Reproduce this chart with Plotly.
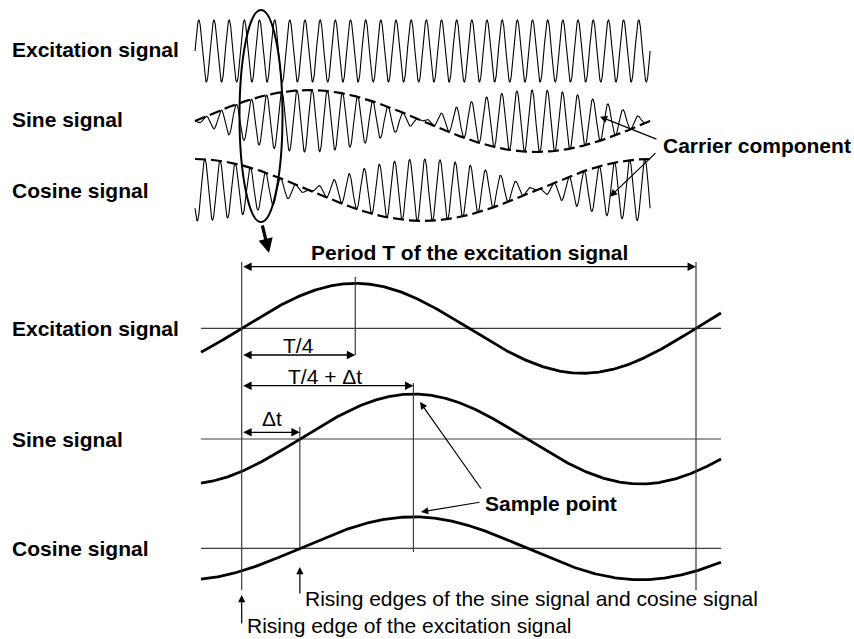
import numpy as np
import plotly.graph_objects as go

# ---------------- data ----------------
row_labels = ["Excitation signal", "Sine signal", "Cosine signal"]

# upper panel: resolver waveforms over one mechanical revolution
n_carrier_cycles = 30          # excitation cycles shown
n_envelope_periods = 1         # carrier-component periods over the same span
carrier_lag_cycles = [0.0, 0.47, 0.40]   # carrier phase of each row (cycles)

# lower panel: one excitation period T
delta_t = 0.128                # delay of sine/cosine signals, in T
t_span = [-0.0896, 1.055]      # drawn time span, in T
bottom_amplitude = [1.0, 1.0, 0.7]

period_text = "Period T of the excitation signal"
t4_text = "T/4"
t4dt_text = "T/4 + Δt"
dt_text = "Δt"
sample_text = "Sample point"
carrier_text = "Carrier component"
rise_sc_text = "Rising edges of the sine signal and cosine signal"
rise_exc_text = "Rising edge of the excitation signal"

# ---------------- layout constants (pixels) ----------------
W, H = 854, 639
TOP_X0, TOP_CYC = 195.0, 15.17
BOT_X0, BOT_T = 241.7, 454.3
top_rows_y = [51, 121, 190]
TOP_AMP = 31
bot_rows_y = [328.3, 439, 548.3]
BOT_AMP = 45

FONT = "Arial, 'Liberation Sans', sans-serif"
INK = "#000000"
GUIDE = "#3c3c3c"

fig = go.Figure()

# ---- upper panel traces (x2 in carrier cycles) ----
c = np.linspace(0, n_carrier_cycles, 4001)
phi = 2 * np.pi * n_envelope_periods * c / n_carrier_cycles
env = [np.ones_like(c), np.sin(phi), np.cos(phi)]
for i in range(3):
    y = top_rows_y[i] - TOP_AMP * env[i] * np.sin(2 * np.pi * (c - carrier_lag_cycles[i]))
    fig.add_trace(go.Scatter(x=c, y=y, xaxis="x2", yaxis="y", mode="lines",
                             line=dict(color=INK, width=1.1), hoverinfo="skip"))
for i in (1, 2):
    fig.add_trace(go.Scatter(x=c, y=top_rows_y[i] - TOP_AMP * env[i], xaxis="x2", yaxis="y",
                             mode="lines", line=dict(color=INK, width=2.2, dash="11px,5px"),
                             hoverinfo="skip"))

# ---- lower panel traces (x in units of T) ----
t = np.linspace(t_span[0], t_span[1], 800)
bottom_delay = [0.0, delta_t, delta_t]
for i in range(3):
    fig.add_trace(go.Scatter(x=[t_span[0], t_span[1]], y=[bot_rows_y[i]] * 2, mode="lines",
                             line=dict(color=GUIDE, width=1.2), hoverinfo="skip"))
for i in range(3):
    y = bot_rows_y[i] - BOT_AMP * bottom_amplitude[i] * np.sin(2 * np.pi * (t - bottom_delay[i]))
    fig.add_trace(go.Scatter(x=t, y=y, mode="lines", line=dict(color=INK, width=2.8),
                             hoverinfo="skip"))

shapes = []
# vertical guide lines: (time in T, top px, bottom px)
guides = [(0.0, 262, 590), (1.0, 262, 590), (0.25, 277, 355),
          (0.25 + delta_t, 383, 552), (delta_t, 427, 548.3)]
for tx, y0, y1 in guides:
    shapes.append(dict(type="line", xref="x", yref="y", x0=tx, x1=tx, y0=y0, y1=y1,
                       line=dict(color=GUIDE, width=1.2)))
# ellipse around the first cycles
shapes.append(dict(type="circle", xref="paper", yref="y",
                   x0=239.5 / W, x1=282.5 / W, y0=10, y1=222,
                   line=dict(color=INK, width=2)))

ann = []


def label(text, x, y, size=21, bold=True, anchor="left"):
    ann.append(dict(text=f"<b>{text}</b>" if bold else text, x=x / W, y=y, xref="paper",
                    yref="y", xanchor=anchor, yanchor="middle", showarrow=False,
                    font=dict(family=FONT, size=size, color=INK)))


def arrow(xtip, ytip, axp, ayp, width=1.2, head=2, size=1.2, color=INK):
    ann.append(dict(text="", x=xtip / W, y=ytip, xref="paper", yref="y", ax=axp, ay=ayp,
                    showarrow=True, arrowhead=head, arrowsize=size, arrowwidth=width,
                    arrowcolor=color, standoff=0, startstandoff=0))


def span(t0, t1, y):
    ann.append(dict(text="", x=t1, y=y, ax=t0, ay=y, xref="x", yref="y", axref="x",
                    ayref="y", showarrow=True, arrowside="end+start", arrowhead=2,
                    startarrowhead=2, arrowsize=1.3, startarrowsize=1.3, arrowwidth=1.3,
                    arrowcolor=INK, standoff=0, startstandoff=0))


# row labels
for i, name in enumerate(row_labels):
    label(name, 10, [49, 119, 190][i])
    label(name, 10, bot_rows_y[i])

# dimension arrows
span(0, 1, 266.7)
span(0, 0.25, 355)
span(0, 0.25 + delta_t, 385.7)
span(0, delta_t, 432.3)

label(period_text, 470, 252, anchor="center")
label(t4_text, 298.6, 345, bold=False, anchor="center")
label(t4dt_text, 325, 376.5, bold=False, anchor="center")
label(dt_text, 271.7, 418, bold=False, anchor="center")

# sample point
label(sample_text, 483, 503)
arrow(420, 402, 62, 88)
arrow(421, 512, 60, -10)

# carrier component
label(carrier_text, 661, 145)
arrow(600, 116.7, 58, 23)
arrow(610, 196.7, 47, -45)

# ellipse pointer
arrow(269, 253, -7, -29, width=3.2, head=2, size=0.9)

# rising edges
arrow(BOT_X0 + delta_t * BOT_T, 567, 0, 28)
label(rise_sc_text, 303, 598, bold=False)
arrow(BOT_X0, 595, 0, 30)
label(rise_exc_text, 245, 625, bold=False)

fig.update_layout(
    width=W, height=H, autosize=False,
    margin=dict(l=0, r=0, t=0, b=0, pad=0),
    paper_bgcolor="white", plot_bgcolor="white",
    showlegend=False, hovermode=False,
    xaxis=dict(range=[-BOT_X0 / BOT_T, (W - BOT_X0) / BOT_T], visible=False,
               domain=[0, 1], fixedrange=True),
    xaxis2=dict(range=[-TOP_X0 / TOP_CYC, (W - TOP_X0) / TOP_CYC], visible=False,
                overlaying="x", anchor="y", fixedrange=True),
    yaxis=dict(range=[H, 0], visible=False, domain=[0, 1], fixedrange=True),
    shapes=shapes, annotations=ann,
)

fig.write_html("out.html", config={"displayModeBar": False, "staticPlot": True},
               post_script="document.body.style.margin='0';")
